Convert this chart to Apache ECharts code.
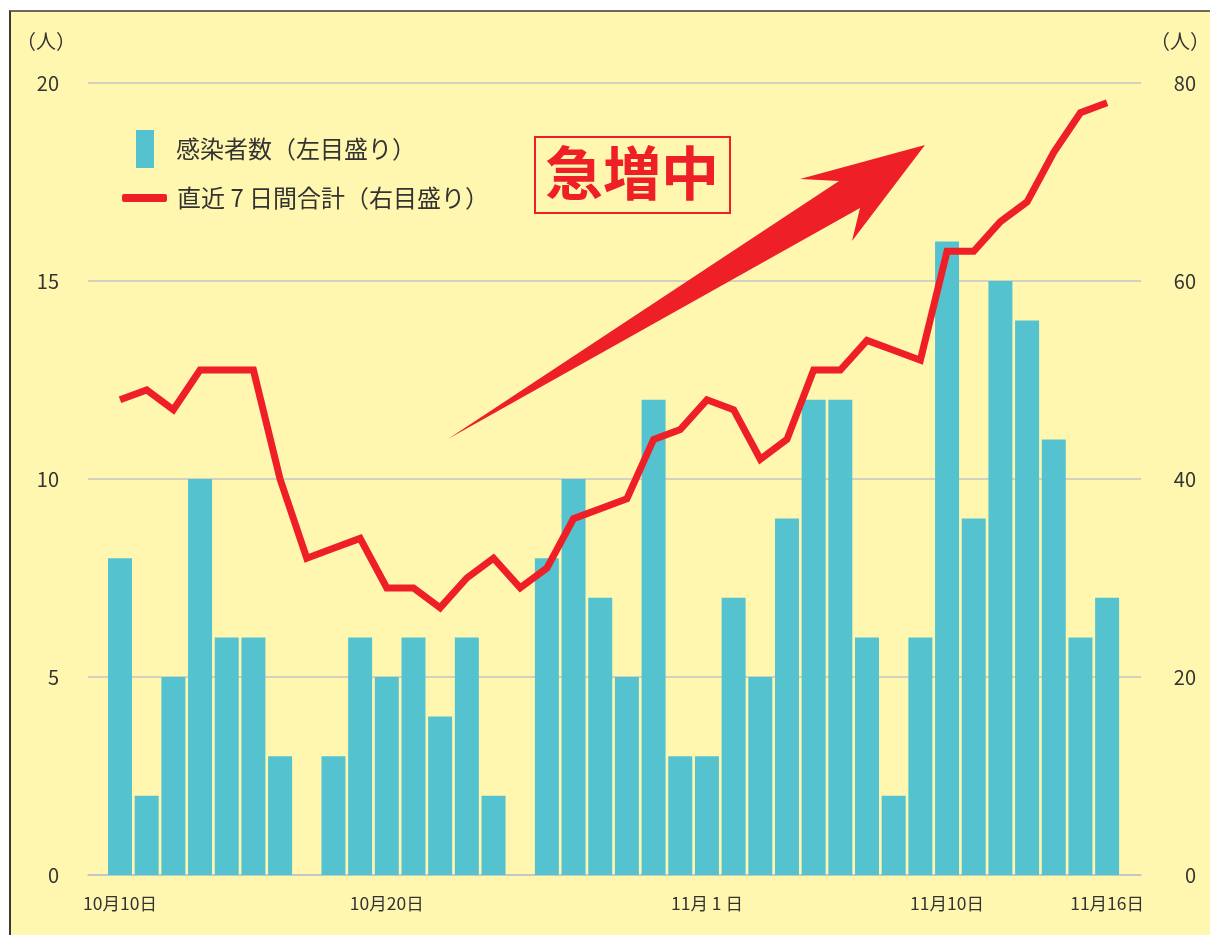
<!DOCTYPE html>
<html>
<head>
<meta charset="utf-8">
<script src="https://cdn.jsdelivr.net/npm/echarts@6/dist/echarts.min.js"></script>
<style>
html, body { margin: 0; padding: 0; background: #fff; }
.panel {
    position: absolute; left: 9px; top: 10px; width: 1201px; height: 925px;
    background: #fff7b0; border-top: 2px solid #6b6b58; border-left: 2px solid #3a3a30;
    box-sizing: border-box;
}
#chart { position: absolute; left: 0; top: 0; width: 1210px; height: 935px; }
</style>
</head>
<body>
<div class="panel"></div>
<div id="chart"></div>
<script>
// 10/10 〜 11/16
const days = [
    '10/10', '10/11', '10/12', '10/13', '10/14', '10/15', '10/16', '10/17', '10/18', '10/19',
    '10/20', '10/21', '10/22', '10/23', '10/24', '10/25', '10/26', '10/27', '10/28', '10/29',
    '10/30', '10/31', '11/1', '11/2', '11/3', '11/4', '11/5', '11/6', '11/7', '11/8',
    '11/9', '11/10', '11/11', '11/12', '11/13', '11/14', '11/15', '11/16'
];
// 感染者数
const cases = [8, 2, 5, 10, 6, 6, 3, 0, 3, 6, 5, 6, 4, 6, 2, 0, 8, 10, 7, 5, 12, 3, 3, 7, 5, 9, 12, 12, 6, 2, 6, 16, 9, 15, 14, 11, 6, 7];
// 直近7日間合計
const weekly = [48, 49, 47, 51, 51, 51, 40, 32, 33, 34, 29, 29, 27, 30, 32, 29, 31, 36, 37, 38, 44, 45, 48, 47, 42, 44, 51, 51, 54, 53, 52, 63, 63, 66, 68, 73, 77, 78];
// 目盛りラベル
const tickDays = { '10/10': '10月10日', '10/20': '10月20日', '11/1': '11月 1 日', '11/10': '11月10日', '11/16': '11月16日' };

const font = '"Noto Sans CJK JP", "Noto Sans", sans-serif';
const tickIdx = days.map((d, i) => (tickDays[d] ? i : -1)).filter(i => i >= 0);

const option = {
    backgroundColor: 'transparent',
    textStyle: { fontFamily: font },
    grid: { left: 88, right: 69, top: 83, bottom: 60 },
    legend: [
        {
            data: ['感染者数（左目盛り）'],
            left: 136, top: 130, padding: 0,
            itemWidth: 18, itemHeight: 38,
            icon: 'rect',
            textStyle: { fontSize: 24, color: '#333', padding: [4, 0, 0, 17] }
        },
        {
            data: ['直近 7 日間合計（右目盛り）'],
            left: 122, top: 186, padding: 0,
            itemWidth: 45, itemHeight: 8,
            icon: 'roundRect',
            textStyle: { fontSize: 24, color: '#333', padding: [0, 0, 0, 5] }
        }
    ],
    xAxis: {
        type: 'value',
        min: -1.2, max: 38.27,
        axisLine: { show: true, onZero: false, lineStyle: { color: '#c4c4c4', width: 1.5 } },
        axisTick: { show: false },
        splitLine: { show: false },
        axisLabel: {
            customValues: tickIdx,
            formatter: v => tickDays[days[Math.round(v)]] || '',
            margin: 20, fontSize: 17.5, color: '#333'
        }
    },
    yAxis: [
        {
            type: 'value', min: 0, max: 20, interval: 5,
            axisLine: { show: false }, axisTick: { show: false },
            axisLabel: { fontSize: 20, color: '#333', margin: 29 },
            splitLine: { lineStyle: { color: '#c4c4c4', width: 1.5 } }
        },
        {
            type: 'value', min: 0, max: 80, interval: 20,
            axisLine: { show: false }, axisTick: { show: false },
            axisLabel: { fontSize: 20, color: '#333', margin: 55, align: 'right' },
            splitLine: { show: false }
        }
    ],
    series: [
        {
            name: '感染者数（左目盛り）',
            type: 'bar',
            barWidth: 24,
            itemStyle: { color: '#55c3cf' },
            data: cases.map((v, i) => [i, v])
        },
        {
            name: '直近 7 日間合計（右目盛り）',
            type: 'line',
            yAxisIndex: 1,
            symbol: 'none',
            lineStyle: { color: '#ee1f26', width: 7, join: 'miter' },
            itemStyle: { color: '#ee1f26' },
            data: weekly.map((v, i) => [i, v]),
            z: 3
        }
    ],
    graphic: [
        { type: 'text', left: 16, top: 31, style: { text: '（人）', font: '20px ' + font, fill: '#333' } },
        { type: 'text', left: 1150, top: 31, style: { text: '（人）', font: '20px ' + font, fill: '#333' } },
        {
            type: 'rect', z: 10,
            shape: { x: 535, y: 137, width: 195, height: 76 },
            style: { fill: 'none', stroke: '#ee1f26', lineWidth: 2 }
        },
        {
            type: 'text', z: 10, left: 545, top: 144,
            style: { text: '急増中', font: 'bold 58px ' + font, fill: '#ee1f26' }
        },
        {
            type: 'polygon', z: 10,
            shape: { points: [[448, 439], [839, 181], [800, 179], [925, 145], [852, 241], [860, 208]] },
            style: { fill: '#ee1f26' }
        }
    ]
};

echarts.init(document.getElementById('chart')).setOption(option);
</script>
</body>
</html>
